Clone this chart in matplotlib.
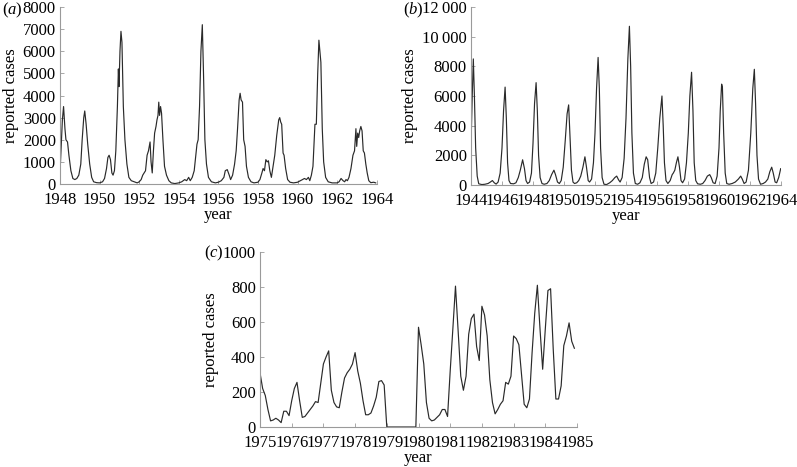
import matplotlib
matplotlib.use("Agg")
import matplotlib.pyplot as plt
from matplotlib.ticker import FuncFormatter

plt.rcParams['font.family'] = ['Liberation Serif', 'DejaVu Serif']
plt.rcParams['mathtext.fontset'] = 'custom'
plt.rcParams['mathtext.rm'] = 'Liberation Serif'
plt.rcParams['mathtext.it'] = 'Liberation Serif:italic'

# ---------------- data ----------------
# panel (a)
years_a = [
    1948.00, 1948.05, 1948.12, 1948.18, 1948.25, 1948.30, 1948.38, 1948.45, 1948.55, 1948.65,
    1948.75, 1948.85, 1948.95, 1949.05, 1949.12, 1949.20, 1949.25, 1949.32, 1949.40, 1949.50,
    1949.60, 1949.70, 1949.85, 1950.00, 1950.15, 1950.25, 1950.35, 1950.42, 1950.48, 1950.55,
    1950.62, 1950.68, 1950.75, 1950.82, 1950.90, 1950.95, 1950.98, 1951.03, 1951.08, 1951.13,
    1951.20, 1951.28, 1951.38, 1951.48, 1951.60, 1951.75, 1951.90, 1952.00, 1952.10, 1952.18,
    1952.25, 1952.32, 1952.40, 1952.47, 1952.55, 1952.60, 1952.66, 1952.72, 1952.78, 1952.85,
    1952.90, 1952.95, 1952.99, 1953.03, 1953.08, 1953.13, 1953.20, 1953.28, 1953.38, 1953.50,
    1953.62, 1953.80, 1954.00, 1954.15, 1954.30, 1954.40, 1954.50, 1954.58, 1954.68, 1954.78,
    1954.85, 1954.92, 1954.98, 1955.05, 1955.12, 1955.19, 1955.25, 1955.32, 1955.40, 1955.50,
    1955.65, 1955.85, 1956.00, 1956.15, 1956.28, 1956.35, 1956.45, 1956.55, 1956.62, 1956.72,
    1956.82, 1956.90, 1956.97, 1957.05, 1957.10, 1957.15, 1957.22, 1957.28, 1957.35, 1957.42,
    1957.52, 1957.65, 1957.80, 1958.00, 1958.10, 1958.20, 1958.26, 1958.33, 1958.40, 1958.47,
    1958.53, 1958.60, 1958.68, 1958.75, 1958.85, 1958.95, 1959.05, 1959.10, 1959.15, 1959.20,
    1959.27, 1959.32, 1959.40, 1959.50, 1959.62, 1959.80, 1960.00, 1960.15, 1960.25, 1960.35,
    1960.45, 1960.55, 1960.62, 1960.70, 1960.78, 1960.88, 1960.95, 1961.02, 1961.08, 1961.13,
    1961.18, 1961.25, 1961.32, 1961.42, 1961.55, 1961.75, 1962.00, 1962.10, 1962.20, 1962.30,
    1962.38, 1962.45, 1962.52, 1962.60, 1962.70, 1962.80, 1962.88, 1962.95, 1962.99, 1963.04,
    1963.09, 1963.14, 1963.20, 1963.26, 1963.32, 1963.38, 1963.45, 1963.52, 1963.60, 1963.70,
    1963.85, 1963.95,
]
cases_a = [
    500, 1500, 2900, 3500, 2500, 2000, 1900, 1300, 600, 250,
    200, 250, 400, 900, 2000, 3000, 3300, 2700, 1800, 900,
    300, 100, 60, 50, 100, 250, 700, 1200, 1300, 1100,
    500, 400, 600, 1500, 3500, 5200, 4400, 6000, 6900, 6400,
    3500, 2000, 900, 300, 150, 100, 50, 100, 200, 400,
    500, 600, 1300, 1500, 1900, 1000, 500, 1500, 2300, 2600,
    2900, 3100, 3700, 3100, 3500, 3200, 2000, 800, 400, 150,
    50, 20, 50, 100, 200, 150, 300, 150, 300, 600,
    1200, 1800, 2000, 3500, 6000, 7200, 5000, 2000, 900, 300,
    100, 50, 80, 150, 300, 600, 650, 400, 200, 400,
    900, 1500, 2500, 3800, 4100, 3800, 3700, 2000, 1700, 800,
    300, 100, 50, 80, 200, 500, 700, 600, 1100, 1000,
    1050, 600, 300, 700, 1300, 2200, 2900, 3000, 2800, 2700,
    1400, 1300, 700, 200, 80, 50, 80, 150, 200, 250,
    200, 300, 150, 400, 800, 2700, 2700, 5000, 6500, 6000,
    5500, 2500, 1000, 300, 100, 50, 50, 100, 250, 150,
    100, 200, 150, 300, 700, 1300, 1500, 2500, 1700, 2300,
    2100, 2400, 2600, 2400, 1500, 1400, 900, 500, 150, 60,
    80, 50,
]

# panel (b)
years_b = [
    1944.00, 1944.08, 1944.15, 1944.22, 1944.30, 1944.40, 1944.50, 1944.70, 1944.90, 1945.10,
    1945.25, 1945.38, 1945.50, 1945.62, 1945.75, 1945.88, 1946.00, 1946.10, 1946.20, 1946.28,
    1946.36, 1946.45, 1946.55, 1946.75, 1946.90, 1947.05, 1947.18, 1947.33, 1947.45, 1947.55,
    1947.65, 1947.78, 1947.90, 1948.00, 1948.10, 1948.20, 1948.28, 1948.36, 1948.46, 1948.58,
    1948.72, 1948.90, 1949.05, 1949.20, 1949.35, 1949.45, 1949.58, 1949.70, 1949.82, 1949.95,
    1950.08, 1950.20, 1950.30, 1950.38, 1950.48, 1950.58, 1950.68, 1950.82, 1950.95, 1951.08,
    1951.22, 1951.35, 1951.45, 1951.56, 1951.65, 1951.78, 1951.90, 1952.00, 1952.10, 1952.20,
    1952.28, 1952.36, 1952.46, 1952.58, 1952.75, 1952.95, 1953.12, 1953.28, 1953.40, 1953.52,
    1953.62, 1953.75, 1953.88, 1954.00, 1954.12, 1954.22, 1954.30, 1954.38, 1954.48, 1954.60,
    1954.75, 1954.90, 1955.05, 1955.18, 1955.30, 1955.40, 1955.52, 1955.62, 1955.78, 1955.92,
    1956.05, 1956.18, 1956.32, 1956.40, 1956.48, 1956.58, 1956.70, 1956.85, 1956.98, 1957.05,
    1957.15, 1957.25, 1957.35, 1957.45, 1957.55, 1957.65, 1957.78, 1957.90, 1958.02, 1958.12,
    1958.23, 1958.32, 1958.40, 1958.50, 1958.62, 1958.80, 1958.95, 1959.10, 1959.25, 1959.40,
    1959.50, 1959.62, 1959.75, 1959.88, 1960.00, 1960.08, 1960.17, 1960.22, 1960.30, 1960.40,
    1960.50, 1960.65, 1960.85, 1961.05, 1961.25, 1961.40, 1961.50, 1961.62, 1961.75, 1961.90,
    1962.05, 1962.18, 1962.28, 1962.36, 1962.45, 1962.55, 1962.68, 1962.85, 1963.00, 1963.15,
    1963.28, 1963.40, 1963.50, 1963.62, 1963.72, 1963.85, 1963.98,
]
cases_b = [
    2600, 6000, 8500, 6000, 2500, 600, 80, 30, 50, 100,
    200, 300, 150, 60, 200, 800, 2500, 5000, 6600, 4500,
    1500, 300, 100, 80, 150, 500, 1000, 1700, 1100, 300,
    100, 200, 800, 2800, 5500, 6900, 5000, 2000, 500, 100,
    50, 100, 300, 700, 1000, 700, 200, 100, 300, 1200,
    3000, 4800, 5400, 3500, 1000, 200, 100, 150, 300, 600,
    1200, 1900, 1200, 300, 200, 400, 1500, 3500, 6500, 8600,
    6500, 2500, 500, 50, 30, 150, 300, 500, 600, 350,
    200, 500, 1800, 4500, 8500, 10700, 8000, 3500, 800, 100,
    50, 150, 500, 1400, 1900, 1700, 500, 100, 200, 800,
    2500, 4500, 6000, 4000, 1500, 300, 100, 300, 700, 800,
    1000, 1500, 1900, 1200, 300, 150, 400, 1500, 3500, 6000,
    7600, 5000, 1500, 300, 80, 50, 100, 300, 600, 700,
    500, 150, 100, 600, 2500, 5000, 6800, 6600, 3500, 800,
    100, 50, 100, 200, 400, 600, 400, 100, 200, 1000,
    3500, 6500, 7800, 5500, 2000, 400, 50, 100, 200, 400,
    900, 1200, 800, 200, 150, 500, 1100,
]

# panel (c): monthly values 1975-1984
start_c = 1975
cases_c = [
    310, 220, 180, 100, 35, 40, 50, 40, 25, 90, 90, 65,        # 1975
    150, 220, 255, 150, 55, 60, 80, 100, 120, 145, 140, 250,   # 1976
    360, 400, 435, 210, 140, 115, 110, 200, 280, 310, 330, 360,  # 1977
    425, 320, 250, 150, 70, 70, 80, 120, 170, 260, 265, 240,   # 1978
    0, 0, 0, 0, 0, 0, 0, 0, 0, 0, 0, 0,                        # 1979
    570, 470, 360, 140, 50, 35, 40, 55, 70, 100, 100, 60,      # 1980
    320, 560, 805, 550, 290, 210, 290, 530, 620, 645, 460, 380,  # 1981
    690, 640, 520, 270, 140, 75, 100, 130, 150, 255, 245, 290,  # 1982
    520, 505, 470, 300, 130, 110, 160, 425, 650, 810, 560, 330,  # 1983
    560, 780, 790, 445, 160, 160, 235, 465, 520, 595, 490, 450,  # 1984
]
years_c = [start_c + i / 12 for i in range(len(cases_c))]

ticks_a = list(range(1948, 1965, 2))
ticks_b = list(range(1944, 1965, 2))
ticks_c = list(range(1975, 1986, 1))
yticks_a = list(range(0, 8001, 1000))
yticks_b = list(range(0, 12001, 2000))
yticks_c = list(range(0, 1001, 200))

# ---------------- figure ----------------
W, H = 797, 467
fig = plt.figure(figsize=(W / 100, H / 100), dpi=100)

def rect(l, r, b, t):
    return [l / W, 1 - b / H, (r - l) / W, (b - t) / H]

SPINE = '#9a9a9a'
LINE = '#2a2a2a'

def thousands(v, pos):
    v = int(round(v))
    if v >= 10000:
        s = f"{v:d}"
        return s[:-3] + "\u2009" + s[-3:]
    return f"{v:d}"

def style(ax, xt, yt):
    for s in ['top', 'right']:
        ax.spines[s].set_visible(False)
    for s in ['left', 'bottom']:
        ax.spines[s].set_color(SPINE)
        ax.spines[s].set_linewidth(0.8)
    ax.set_xticks(xt)
    ax.set_yticks(yt)
    ax.set_xlim(xt[0], xt[-1])
    ax.set_ylim(yt[0], yt[-1])
    ax.tick_params(direction='in', length=3, width=0.6, color=SPINE,
                   labelsize=12)
    ax.tick_params(axis='x', pad=6.0)
    ax.tick_params(axis='y', pad=3)
    ax.yaxis.set_major_formatter(FuncFormatter(thousands))
    for t in ax.get_yticklabels():
        t.set_verticalalignment('center_baseline')
    ax.set_xlabel('year', fontsize=12, labelpad=-1.0)
    ax.set_ylabel('reported cases', fontsize=12, labelpad=3)

axa = fig.add_axes(rect(60, 376.7, 184, 7))
axa.plot(years_a, cases_a, color=LINE, lw=0.85)
style(axa, ticks_a, yticks_a)

axb = fig.add_axes(rect(471, 781, 185, 7))
axb.plot(years_b, cases_b, color=LINE, lw=0.85)
style(axb, ticks_b, yticks_b)

axc = fig.add_axes(rect(260, 577, 427, 252))
axc.plot(years_c, cases_c, color=LINE, lw=0.85)
style(axc, ticks_c, yticks_c)

fig.text(2 / W, 1 - 10 / H, r'($\mathit{a}$)', fontsize=12, ha='left', va='center')
fig.text(403 / W, 1 - 10 / H, r'($\mathit{b}$)', fontsize=12, ha='left', va='center')
fig.text(204 / W, 1 - 253 / H, r'($\mathit{c}$)', fontsize=12, ha='left', va='center')

fig.savefig('out.png', dpi=100)
